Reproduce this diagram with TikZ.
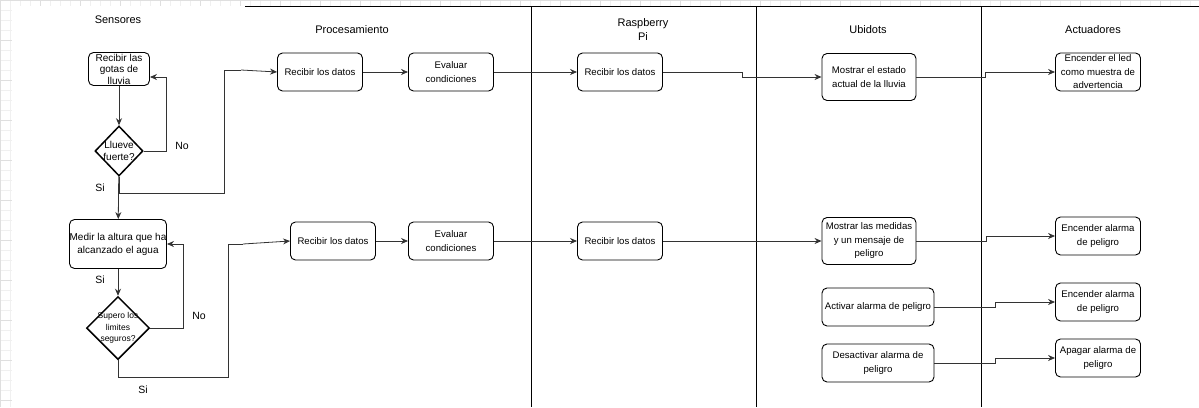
\documentclass[tikz,border=0pt]{standalone}
\usepackage{fontspec}
\setmainfont{Liberation Sans}
\usetikzlibrary{shapes.geometric,arrows.meta}
\begin{document}
\begin{tikzpicture}[x=1pt,y=-1pt,
  box/.style={draw, line width=0.9pt, rounded corners=5pt, align=center, inner sep=0pt, font=\fontsize{9.6}{13.5}\selectfont},
  dec/.style={draw, diamond, line width=1.5pt, inner sep=0pt},
  flow/.style={draw=black!80, line width=0.8pt, -{Stealth[length=7pt,width=6pt]}},
  conn/.style={draw=black!80, line width=0.8pt},
  title/.style={font=\fontsize{11}{14}\selectfont, align=center},
  lbl/.style={font=\fontsize{10.5}{12}\selectfont}]
\useasboundingbox (0,0) rectangle (1199,407);
\draw[gray!12, step=10pt] (0,0) grid (1199,407);
\draw[gray!25, step=40pt] (0,0) grid (1199,407);
\fill[white] (12,6) rectangle (1199,407);
\draw[line width=0.8pt] (245,6) -- (1199,6);
\draw[line width=0.8pt] (531,6) -- (531,407);
\draw[line width=0.8pt] (756,6) -- (756,407);
\draw[line width=0.8pt] (981,6) -- (981,407);

\node[title] (tsen) at (118,20){Sensores};
\node[title] (tpro) at (352,30){Procesamiento};
\node[title] (tras) at (643,30){Raspberry\\Pi};
\node[title] (tubi) at (868,30){Ubidots};
\node[title] (tact) at (1093,30){Actuadores};

\node[box, minimum width=61pt, minimum height=33pt, font=\fontsize{10}{11.5}\selectfont] (sen1) at (119,69){Recibir las\\gotas de\\lluvia};
\node[dec, minimum width=48pt, minimum height=50pt, label={[font=\fontsize{10}{11.5}\selectfont, align=center]center:Llueve\\fuerte?}] (sen2) at (119,151){};
\node[box, minimum width=97pt, minimum height=49pt, font=\fontsize{10}{13}\selectfont] (sen3) at (118,244){Medir la altura que ha\\alcanzado el agua};
\node[dec, minimum width=63pt, minimum height=63pt, label={[font=\fontsize{8.5}{11.5}\selectfont, align=center]center:Supero los\\limites\\seguros?}] (sen4) at (118,328){};
\node[lbl] (no1) at (182,146){No};
\node[lbl] (si1) at (100,188){Si};
\node[lbl] (si2) at (100,280){Si};
\node[lbl] (no2) at (199,316){No};
\node[lbl] (si3) at (143,390){Si};

\node[box, minimum width=85pt, minimum height=38pt] (pro1) at (320,72){Recibir los datos};
\node[box, minimum width=85pt, minimum height=38pt] (pro2) at (451,72){Evaluar\\condiciones};
\node[box, minimum width=85pt, minimum height=38pt] (pro3) at (333,241){Recibir los datos};
\node[box, minimum width=85pt, minimum height=38pt] (pro4) at (451,241){Evaluar\\condiciones};

\node[box, minimum width=85pt, minimum height=38pt] (ras1) at (620,72){Recibir los datos};
\node[box, minimum width=85pt, minimum height=38pt] (ras2) at (620,241){Recibir los datos};

\node[box, minimum width=94pt, minimum height=47pt] (ubi1) at (869,77){Mostrar el estado\\actual de la lluvia};
\node[box, minimum width=94pt, minimum height=47pt] (ubi2) at (869,241){Mostrar las medidas\\y un mensaje de\\peligro};
\node[box, minimum width=112pt, minimum height=38pt] (ubi3) at (878,307){Activar alarma de peligro};
\node[box, minimum width=112pt, minimum height=38pt] (ubi4) at (878,363){Desactivar alarma de\\peligro};

\node[box, minimum width=85pt, minimum height=38pt] (act1) at (1098,72){Encender el led\\como muestra de\\advertencia};
\node[box, minimum width=85pt, minimum height=38pt] (act2) at (1098,236){Encender alarma\\de peligro};
\node[box, minimum width=85pt, minimum height=38pt] (act3) at (1098,302){Encender alarma\\de peligro};
\node[box, minimum width=85pt, minimum height=38pt] (act4) at (1098,358){Apagar alarma de\\peligro};

\draw[flow](sen1) -- (sen2);
\draw[flow](sen2.east) -- (166,151) |- ([yshift=-8pt]sen1.east);
\draw[flow](sen2) -- (sen3);
\draw[conn](sen2.south) -- (119,193) -| (224,70) -- (241,70);
\draw[flow](241,70) -- (pro1.west);
\draw[flow](sen3) -- (sen4);
\draw[flow](sen4.east) -- (183,328) |- (sen3.east);
\draw[conn](sen4.south) -- (118,377) -| (228,244) -- (243,244);
\draw[flow](243,244) -- (pro3.west);

\draw[flow](pro1) -- (pro2);
\draw[flow](pro3) -- (pro4);
\draw[flow](pro2) -- (ras1);
\draw[flow](pro4) -- (ras2);
\draw[flow](ras1.east) -- (742,72) |- (ubi1.west);
\draw[flow](ras2) -- (ubi2);
\draw[flow](ubi1.east) -- (985,77) |- (act1.west);
\draw[flow](ubi2.east) -- (986,241) |- (act2.west);
\draw[flow](ubi3.east) -- (995,307) |- (act3.west);
\draw[flow](ubi4.east) -- (995,363) |- (act4.west);

\end{tikzpicture}
\end{document}
